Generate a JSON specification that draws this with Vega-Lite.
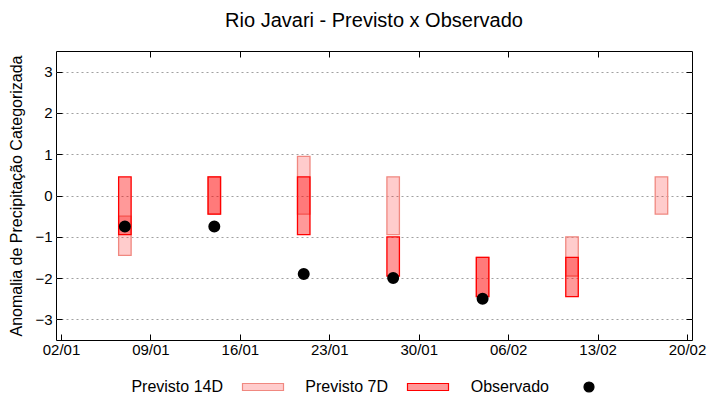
{
  "$schema": "https://vega.github.io/schema/vega-lite/v6.json",
  "width": 636,
  "height": 289,
  "autosize": {"type": "none"},
  "padding": {"left": 56, "top": 51, "right": 28, "bottom": 60},
  "background": "white",
  "title": {"text": "Rio Javari - Previsto x Observado", "fontSize": 20, "font": "Liberation Sans", "fontWeight": "normal", "anchor": "middle", "offset": 20, "color": "black"},
  "config": {
    "view": {"stroke": "black", "strokeWidth": 1},
    "font": "Liberation Sans",
    "axis": {"labelFont": "Liberation Sans", "titleFont": "Liberation Sans", "labelColor": "black", "titleColor": "black", "tickColor": "black", "domain": false},
    "legend": {"orient": "none", "legendX": 199, "legendY": 328, "direction": "horizontal", "labelFont": "Liberation Sans", "labelFontSize": 16, "labelColor": "black", "columnPadding": 19, "symbolStrokeWidth": 1.2, "labelAlign": "right", "labelOffset": -48}
  },
  "resolve": {"axis": {"x": "independent", "y": "independent"}},
  "data": {"values": [
    {"date": "2024-01-07", "serie": "Previsto 14D", "low": -1.45, "high": -0.5},
    {"date": "2024-01-14", "serie": "Previsto 14D", "low": -0.45, "high": 0.45},
    {"date": "2024-01-21", "serie": "Previsto 14D", "low": -0.45, "high": 0.95},
    {"date": "2024-01-28", "serie": "Previsto 14D", "low": -0.95, "high": 0.45},
    {"date": "2024-02-04", "serie": "Previsto 14D", "low": -2.45, "high": -1.5},
    {"date": "2024-02-11", "serie": "Previsto 14D", "low": -1.95, "high": -1.0},
    {"date": "2024-02-18", "serie": "Previsto 14D", "low": -0.45, "high": 0.45},
    {"date": "2024-01-07", "serie": "Previsto 7D", "low": -0.95, "high": 0.45},
    {"date": "2024-01-14", "serie": "Previsto 7D", "low": -0.45, "high": 0.45},
    {"date": "2024-01-21", "serie": "Previsto 7D", "low": -0.95, "high": 0.45},
    {"date": "2024-01-28", "serie": "Previsto 7D", "low": -1.95, "high": -1.0},
    {"date": "2024-02-04", "serie": "Previsto 7D", "low": -2.45, "high": -1.5},
    {"date": "2024-02-11", "serie": "Previsto 7D", "low": -2.45, "high": -1.5},
    {"date": "2024-01-07", "serie": "Observado", "value": -0.75},
    {"date": "2024-01-14", "serie": "Observado", "value": -0.75},
    {"date": "2024-01-21", "serie": "Observado", "value": -1.9},
    {"date": "2024-01-28", "serie": "Observado", "value": -2.0},
    {"date": "2024-02-04", "serie": "Observado", "value": -2.5}
  ]},
  "encoding": {
    "x": {
      "field": "date", "type": "temporal",
      "scale": {"type": "utc", "domain": [{"year": 2024, "month": 1, "date": 2, "utc": true}, {"year": 2024, "month": 2, "date": 20, "utc": true}]},
      "axis": {
        "title": null, "format": "%d/%m", "grid": false,
        "labelFontSize": 15, "tickSize": -6, "labelPadding": 8, "labelFlush": false, "labelOverlap": false,
        "values": [
          {"year": 2024, "month": 1, "date": 2, "utc": true},
          {"year": 2024, "month": 1, "date": 9, "utc": true},
          {"year": 2024, "month": 1, "date": 16, "utc": true},
          {"year": 2024, "month": 1, "date": 23, "utc": true},
          {"year": 2024, "month": 1, "date": 30, "utc": true},
          {"year": 2024, "month": 2, "date": 6, "utc": true},
          {"year": 2024, "month": 2, "date": 13, "utc": true},
          {"year": 2024, "month": 2, "date": 20, "utc": true}
        ]
      }
    },
    "fill": {"field": "serie", "type": "nominal", "title": null, "scale": {"domain": ["Previsto 14D", "Previsto 7D", "Observado"], "range": ["rgba(255,0,0,0.2)", "rgba(255,0,0,0.4)", "#000000"]}},
    "stroke": {"field": "serie", "type": "nominal", "title": null, "scale": {"domain": ["Previsto 14D", "Previsto 7D", "Observado"], "range": ["#f08880", "#ff0000", "#000000"]}}
  },
  "layer": [
    {
      "transform": [{"filter": "datum.serie === 'Previsto 14D'"}],
      "mark": {"type": "bar", "width": 12.5, "strokeWidth": 1.3, "opacity": 1, "fillOpacity": 1},
      "encoding": {
        "y": {"field": "high", "type": "quantitative", "scale": {"domain": [-3.5, 3.5], "nice": false},
          "axis": {"title": "Anomalia de Precipitação Categorizada", "titleFontSize": 16, "titleFontWeight": "normal", "titlePadding": 10,
            "values": [-3, -2, -1, 0, 1, 2, 3], "labelFontSize": 15, "tickSize": -6, "labelPadding": 10,
            "grid": true, "gridColor": "#a0a0a0", "gridDash": [2, 3], "gridWidth": 1}},
        "y2": {"field": "low"}
      }
    },
    {
      "transform": [{"filter": "datum.serie === 'Previsto 7D'"}],
      "mark": {"type": "bar", "width": 12.5, "strokeWidth": 1.3, "opacity": 1, "fillOpacity": 1},
      "encoding": {
        "x": {"field": "date", "type": "temporal", "axis": null},
        "y": {"field": "high", "type": "quantitative",
          "axis": {"orient": "right", "title": null, "labels": false, "grid": false, "tickSize": -6, "values": [-3, -2, -1, 0, 1, 2, 3]}},
        "y2": {"field": "low"}
      }
    },
    {
      "transform": [{"filter": "datum.serie === 'Observado'"}],
      "mark": {"type": "point", "filled": true, "opacity": 1, "fillOpacity": 1},
      "encoding": {
        "x": {"field": "date", "type": "temporal",
          "axis": {"orient": "top", "title": null, "labels": false, "grid": false, "tickSize": -6,
            "values": [
              {"year": 2024, "month": 1, "date": 9, "utc": true},
              {"year": 2024, "month": 1, "date": 16, "utc": true},
              {"year": 2024, "month": 1, "date": 23, "utc": true},
              {"year": 2024, "month": 1, "date": 30, "utc": true},
              {"year": 2024, "month": 2, "date": 6, "utc": true},
              {"year": 2024, "month": 2, "date": 13, "utc": true}
            ]}},
        "y": {"field": "value", "type": "quantitative", "axis": null},
        "shape": {"field": "serie", "type": "nominal", "title": null, "scale": {"domain": ["Previsto 14D", "Previsto 7D", "Observado"], "range": ["M-4.1,-0.7H4.1V0.7H-4.1Z", "M-4.1,-0.7H4.1V0.7H-4.1Z", "circle"]}},
        "size": {"field": "serie", "type": "nominal", "title": null, "scale": {"domain": ["Previsto 14D", "Previsto 7D", "Observado"], "range": [100, 100, 160]}}
      }
    }
  ]
}
